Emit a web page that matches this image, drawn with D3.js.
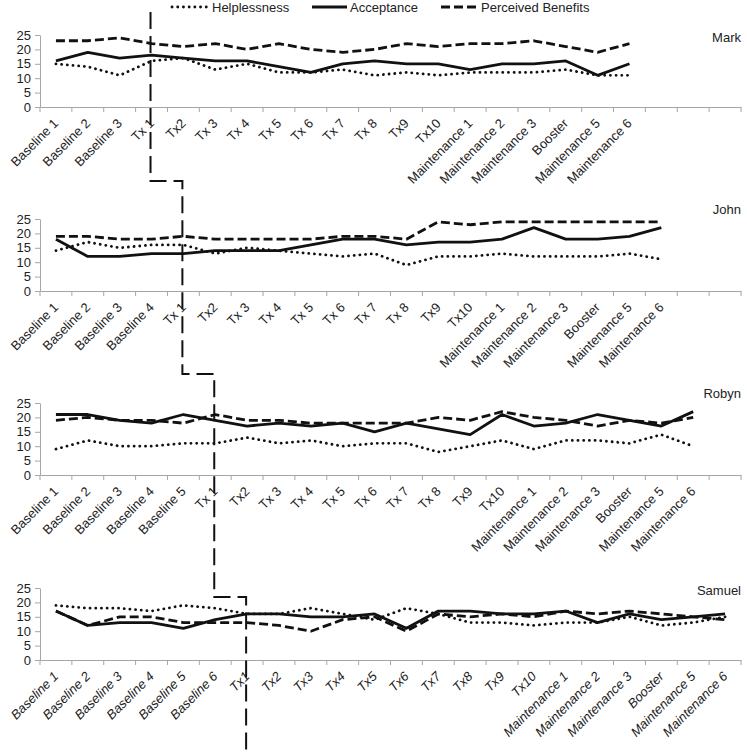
<!DOCTYPE html>
<html>
<head>
<meta charset="utf-8">
<script src="https://cdn.jsdelivr.net/npm/d3@7"></script>
<style>
  html, body { margin: 0; padding: 0; background: #fff; }
  svg text { font-family: "Liberation Sans", Arial, sans-serif; fill: #222; }
</style>
</head>
<body>
<svg id="chart" width="747" height="754"></svg>
<script>
// ---------- DATA ----------
const seriesNames = ["Helplessness", "Acceptance", "Perceived Benefits"];
const yTicks = [0, 5, 10, 15, 20, 25];
const slotCount = 22;

const markLabels = ["Baseline 1","Baseline 2","Baseline 3","Tx 1","Tx2","Tx 3","Tx 4","Tx 5","Tx 6","Tx 7","Tx 8","Tx9","Tx10","Maintenance 1","Maintenance 2","Maintenance 3","Booster","Maintenance 5","Maintenance 6"];
const markHelplessness = [15,14,11,16,17,13,15,12,12,13,11,12,11,12,12,12,13,11,11];
const markAcceptance   = [16,19,17,18,17,16,16,14,12,15,16,15,15,13,15,15,16,11,15];
const markBenefits     = [23,23,24,22,21,22,20,22,20,19,20,22,21,22,22,23,21,19,22];

const johnLabels = ["Baseline 1","Baseline 2","Baseline 3","Baseline 4","Tx 1","Tx2","Tx 3","Tx 4","Tx 5","Tx 6","Tx 7","Tx 8","Tx9","Tx10","Maintenance 1","Maintenance 2","Maintenance 3","Booster","Maintenance 5","Maintenance 6"];
const johnHelplessness = [14,17,15,16,16,13,15,14,13,12,13,9,12,12,13,12,12,12,13,11];
const johnAcceptance   = [18,12,12,13,13,14,14,14,16,18,18,16,17,17,18,22,18,18,19,22];
const johnBenefits     = [19,19,18,18,19,18,18,18,18,19,19,18,24,23,24,24,24,24,24,24];

const robynLabels = ["Baseline 1","Baseline 2","Baseline 3","Baseline 4","Baseline 5","Tx 1","Tx2","Tx 3","Tx 4","Tx 5","Tx 6","Tx 7","Tx 8","Tx9","Tx10","Maintenance 1","Maintenance 2","Maintenance 3","Booster","Maintenance 5","Maintenance 6"];
const robynHelplessness = [9,12,10,10,11,11,13,11,12,10,11,11,8,10,12,9,12,12,11,14,10];
const robynAcceptance   = [21,21,19,18,21,19,17,18,17,18,15,18,16,14,21,17,18,21,19,17,22];
const robynBenefits     = [19,20,19,19,18,21,19,19,18,18,18,18,20,19,22,20,19,17,19,18,20];

const samuelLabels = ["Baseline 1","Baseline 2","Baseline 3","Baseline 4","Baseline 5","Baseline 6","Tx1","Tx2","Tx3","Tx4","Tx5","Tx6","Tx7","Tx8","Tx9","Tx10","Maintenance 1","Maintenance 2","Maintenance 3","Booster","Maintenance 5","Maintenance 6"];
const samuelHelplessness = [19,18,18,17,19,18,16,16,18,16,14,18,16,13,13,12,13,13,15,12,13,15];
const samuelAcceptance   = [17,12,13,13,11,14,16,16,15,15,16,11,17,17,16,16,17,13,16,14,15,16];
const samuelBenefits     = [17,12,15,15,13,13,13,12,10,14,15,10,16,15,16,15,17,16,17,16,15,14];

// phase change (first treatment session) index per participant
const phaseIndex = [3, 4, 5, 6];

// ---------- LAYOUT ----------
const panels = [
  { name: "Mark",   labels: markLabels,   series: [markHelplessness, markAcceptance, markBenefits],       italic: false },
  { name: "John",   labels: johnLabels,   series: [johnHelplessness, johnAcceptance, johnBenefits],       italic: false },
  { name: "Robyn",  labels: robynLabels,  series: [robynHelplessness, robynAcceptance, robynBenefits],    italic: false },
  { name: "Samuel", labels: samuelLabels, series: [samuelHelplessness, samuelAcceptance, samuelBenefits], italic: true }
];
const panelBottoms = [107, 291, 475, 660];
const panelHeight = 72;
const nameYOffset = [2, -10, -10, 2];
const breakYs = [181, 374, 597];
const axisLeftX = 40, axisRightX = 741;

const styles = [
  { dash: "0.1,5.6", cap: "round" },
  { dash: null, cap: "butt" },
  { dash: "9,4", cap: "butt" }
];

const svg = d3.select("#chart");
const axisColor = "#a6a6a6";

const x = d3.scaleBand().domain(d3.range(slotCount)).range([axisLeftX, axisRightX]).padding(0);

panels.forEach((p, pi) => {
  const bottom = panelBottoms[pi];
  const y = d3.scaleLinear().domain([0, 25]).range([bottom, bottom - panelHeight]);
  const g = svg.append("g");

  // y axis
  const ya = g.append("g").attr("transform", `translate(${axisLeftX},0)`)
    .call(d3.axisLeft(y).tickValues(yTicks).tickSize(5).tickPadding(4).tickSizeOuter(0));
  ya.select(".domain").attr("stroke", axisColor);
  ya.selectAll(".tick line").attr("stroke", axisColor);
  ya.selectAll(".tick text").style("font-size", "13px").attr("fill", "#222")
    .style("font-family", '"Liberation Sans", Arial, sans-serif');

  // x axis line
  const xa = g.append("g").attr("transform", `translate(0,${bottom})`)
    .call(d3.axisBottom(x).tickSize(0).tickFormat(""));
  xa.select(".domain").attr("stroke", axisColor);
  // boundary ticks
  g.selectAll(".bt").data(d3.range(slotCount + 1)).enter().append("line")
    .attr("x1", i => i < slotCount ? x(i) : x(slotCount - 1) + x.bandwidth())
    .attr("x2", i => i < slotCount ? x(i) : x(slotCount - 1) + x.bandwidth())
    .attr("y1", bottom).attr("y2", bottom + 5)
    .attr("stroke", axisColor);

  // category labels
  g.selectAll(".cl").data(p.labels).enter().append("text")
    .attr("transform", (d, i) => `translate(${x(i) + x.bandwidth() / 2},${bottom + 14}) rotate(-45)`)
    .attr("text-anchor", "end")
    .attr("dy", "0.35em")
    .style("font-size", "13px")
    .style("font-style", p.italic ? "italic" : "normal")
    .text(d => d);

  // series
  p.series.forEach((vals, si) => {
    const line = d3.line().x((d, i) => x(i) + x.bandwidth() / 2).y(d => y(d));
    g.append("path").datum(vals)
      .attr("d", line)
      .attr("fill", "none")
      .attr("stroke", "#111")
      .attr("stroke-width", 2.8)
      .attr("stroke-linejoin", "round")
      .attr("stroke-linecap", styles[si].cap)
      .attr("stroke-dasharray", styles[si].dash);
  });

  // participant name
  g.append("text")
    .attr("x", axisRightX).attr("y", bottom - panelHeight + nameYOffset[pi])
    .attr("text-anchor", "end").attr("dy", "0.35em")
    .style("font-size", "13px")
    .text(p.name);
});

// phase change line (multiple baseline staircase)
const cx = i => x(i) + x.bandwidth() / 2;
const pts = [[cx(phaseIndex[0]) - 1, 12]];
for (let k = 0; k < breakYs.length; k++) {
  pts.push([cx(phaseIndex[k]) - 1, breakYs[k]]);
  pts.push([cx(phaseIndex[k + 1]) - 1, breakYs[k]]);
}
pts.push([cx(phaseIndex[3]) - 1, 754]);
svg.append("path")
  .attr("d", d3.line()(pts))
  .attr("fill", "none")
  .attr("stroke", "#111")
  .attr("stroke-width", 2)
  .attr("stroke-dasharray", "17,7");

// legend
const legendItems = [
  { x1: 172, x2: 208, tx: 212 },
  { x1: 312, x2: 347, tx: 350 },
  { x1: 441, x2: 478, tx: 481 }
];
const lg = svg.append("g");
seriesNames.forEach((n, i) => {
  const it = legendItems[i];
  lg.append("line").attr("x1", it.x1).attr("x2", it.x2).attr("y1", 7).attr("y2", 7)
    .attr("stroke", "#111").attr("stroke-width", 2.8)
    .attr("stroke-linecap", styles[i].cap)
    .attr("stroke-dasharray", styles[i].dash);
  lg.append("text").attr("x", it.tx).attr("y", 7).attr("dy", "0.35em")
    .style("font-size", "13px").text(n);
});
</script>
</body>
</html>
